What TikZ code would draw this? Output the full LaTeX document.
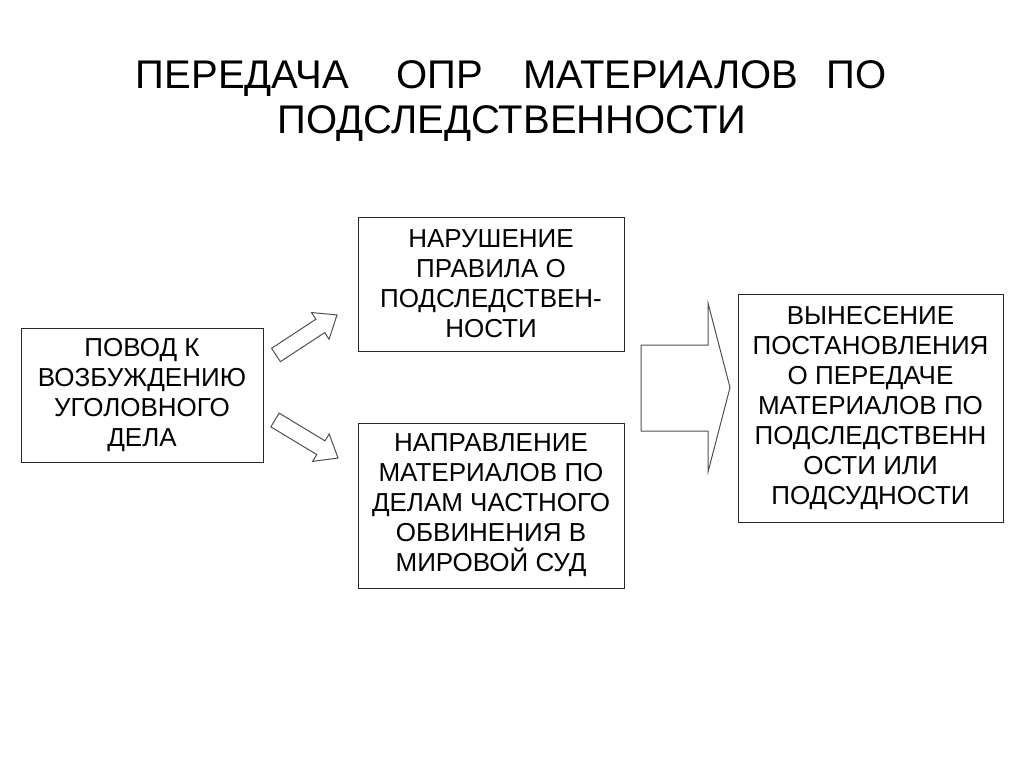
\documentclass[tikz,border=0pt]{standalone}
\usepackage{fontspec}
\setmainfont{Liberation Sans}
\usepackage{xcolor}
\usetikzlibrary{positioning}
\definecolor{boxInk}{RGB}{40,40,40}
\definecolor{arrowInk}{RGB}{80,80,80}
\newcommand{\blockarrow}[2]{% length, head length
  \draw[arrow line]
    (0,-8)--(#1-#2,-8)--(#1-#2,-16)--(#1,0)--(#1-#2,16)--(#1-#2,8)--(0,8)--cycle;
}
\tikzset{
  step box/.style={draw=boxInk,line width=1pt,inner sep=0pt,align=center,
    font=\fontsize{26}{30}\selectfont},
  arrow line/.style={draw=arrowInk,line width=1pt,fill=white},
  heading/.style={anchor=base,inner sep=0pt,font=\fontsize{40}{46}\selectfont}
}

\begin{document}
\begin{tikzpicture}[x=1pt,y=-1pt]
  \useasboundingbox (0,0) rectangle (1024,768);
  % title
  \node[heading] (title1) at (511,88)
    {ПЕРЕДАЧА\hspace{48pt}ОПР\hspace{40pt}МАТЕРИАЛОВ\hspace{28pt}ПО};
  \node[heading] (title2) at (512,133) {ПОДСЛЕДСТВЕННОСТИ};
  % boxes
  \node[step box,minimum width=242pt,minimum height=134pt] (reason) at (142,395)
    {ПОВОД К\\ВОЗБУЖДЕНИЮ\\УГОЛОВНОГО\\ДЕЛА};
  \node[step box,minimum width=266pt,minimum height=134pt] (breach) at (491,284)
    {НАРУШЕНИЕ\\ПРАВИЛА О\\ПОДСЛЕДСТВЕН-\\НОСТИ};
  \node[step box,minimum width=266pt,minimum height=165pt] (court) at (491,505.5)
    {НАПРАВЛЕНИЕ\\МАТЕРИАЛОВ ПО\\ДЕЛАМ ЧАСТНОГО\\ОБВИНЕНИЯ В\\МИРОВОЙ СУД};
  \node[step box,minimum width=265pt,minimum height=228pt] (decision) at (870.5,408)
    {ВЫНЕСЕНИЕ\\ПОСТАНОВЛЕНИЯ\\О ПЕРЕДАЧЕ\\МАТЕРИАЛОВ ПО\\ПОДСЛЕДСТВЕНН\\ОСТИ ИЛИ\\ПОДСУДНОСТИ};
  % small block arrows
  \begin{scope}[shift={(276,355)},rotate=33.3]\blockarrow{73}{20}\end{scope}
  \begin{scope}[shift={(275,420)},rotate=-31.1]\blockarrow{73.6}{20}\end{scope}
  % big block arrow
  \coordinate (s0) at (641,345);
  \coordinate (s1) at (708,345);
  \coordinate (h0) at (708,303);
  \coordinate (tip) at (730,387.5);
  \coordinate (h1) at (708,472);
  \coordinate (s2) at (708,431);
  \coordinate (s3) at (641,431);
  \draw[arrow line] (s0)--(s1)--(h0)--(tip)--(h1)--(s2)--(s3)--cycle;
\end{tikzpicture}
\end{document}
